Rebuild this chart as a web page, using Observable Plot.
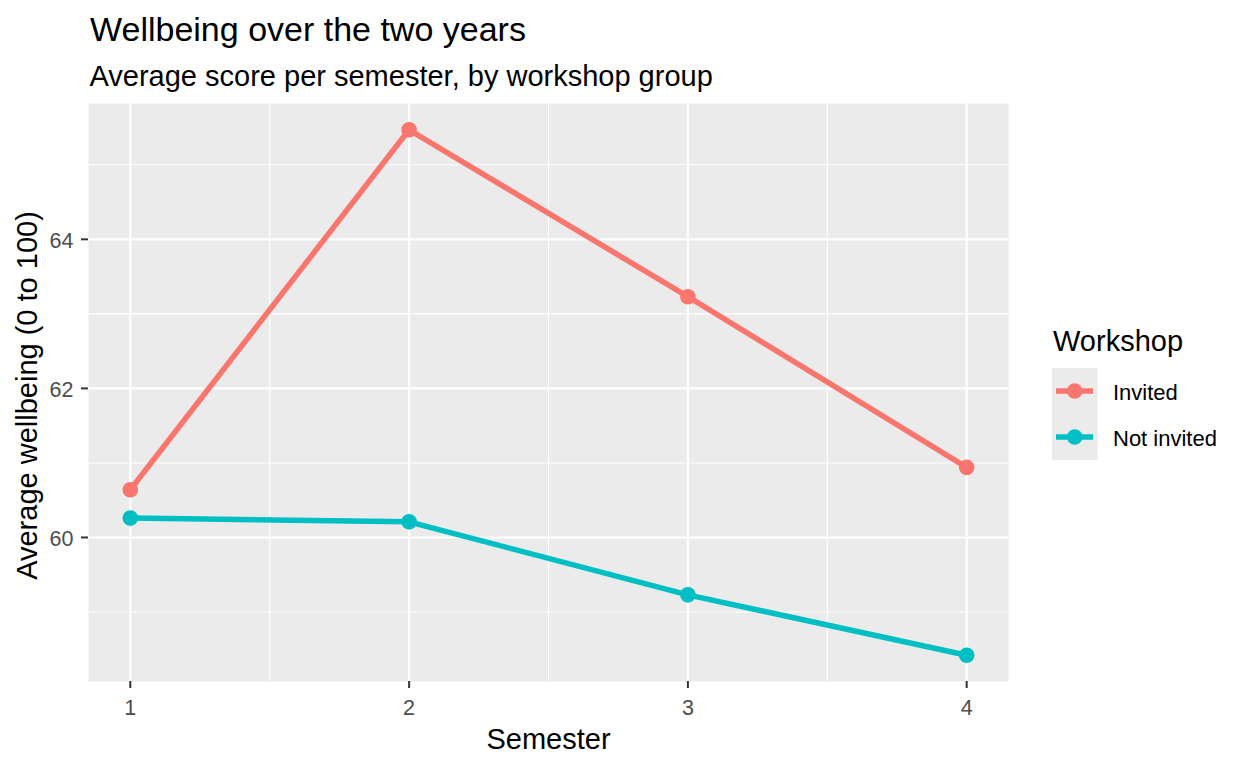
<!DOCTYPE html>
<html><head><meta charset="utf-8">
<script src="https://cdn.jsdelivr.net/npm/d3@7"></script>
<script src="https://cdn.jsdelivr.net/npm/@observablehq/plot@0.6"></script>
<style>
html,body{margin:0;padding:0;background:#fff;}
#wrap{position:relative;width:1248px;height:768px;}
#legend{position:absolute;left:0;top:0;pointer-events:none;}
</style></head><body><div id="wrap"></div>
<script>
const semesters = [1, 2, 3, 4];
const groups = ["Invited", "Not invited"];
const invited = [60.64, 65.47, 63.23, 60.94];
const notInvited = [60.26, 60.21, 59.23, 58.42];
const colors = ["#F8766D", "#00BFC4"];
const xTicks = [1, 2, 3, 4];
const xMinor = [1.5, 2.5, 3.5];
const yTicks = [60, 62, 64];
const yMinor = [59, 61, 63, 65];
const title = "Wellbeing over the two years";
const subtitle = "Average score per semester, by workshop group";
const xLabel = "Semester";
const yLabel = "Average wellbeing (0 to 100)";
const legendTitle = "Workshop";

const rows = [];
semesters.forEach((s, i) => rows.push({semester: s, score: invited[i], group: groups[0]}));
semesters.forEach((s, i) => rows.push({semester: s, score: notInvited[i], group: groups[1]}));

function expand(ext) { const p = (ext[1] - ext[0]) * 0.05; return [ext[0] - p, ext[1] + p]; }
const xDomain = expand(d3.extent(semesters));
const yDomain = expand(d3.extent(rows, d => d.score));

const font = "'Liberation Sans', Arial, sans-serif";
const tickFont = 21.5;
const chart = Plot.plot({
  width: 1248, height: 768,
  marginLeft: 88, marginRight: 240, marginTop: 103, marginBottom: 87,
  style: {fontFamily: font, fontSize: "22px", background: "#fff", overflow: "visible"},
  x: {domain: xDomain},
  y: {domain: yDomain},
  color: {domain: groups, range: colors},
  marks: [
    Plot.frame({fill: "#EBEBEB", stroke: "none"}),
    Plot.gridX(xMinor, {stroke: "#fff", strokeOpacity: 1, strokeWidth: 1.1}),
    Plot.gridY(yMinor, {stroke: "#fff", strokeOpacity: 1, strokeWidth: 1.1}),
    Plot.gridX(xTicks, {stroke: "#fff", strokeOpacity: 1, strokeWidth: 2.1}),
    Plot.gridY(yTicks, {stroke: "#fff", strokeOpacity: 1, strokeWidth: 2.1}),
    Plot.axisX(xTicks, {label: null, tickFormat: () => "", tickSize: 7, stroke: "#333333", strokeWidth: 2}),
    Plot.axisY(yTicks, {label: null, tickFormat: () => "", tickSize: 7, stroke: "#333333", strokeWidth: 2}),
    Plot.text(xTicks, {x: d => d, text: d => String(d), frameAnchor: "bottom", dy: 33, lineAnchor: "bottom", textAnchor: "middle", fontSize: tickFont, fill: "#4D4D4D"}),
    Plot.text(yTicks, {y: d => d, text: d => String(d), frameAnchor: "left", dx: -15, dy: 9, lineAnchor: "bottom", textAnchor: "end", fontSize: tickFont, fill: "#4D4D4D"}),
    Plot.line(rows, {x: "semester", y: "score", z: "group", stroke: "group", strokeWidth: 5.5}),
    Plot.dot(rows, {x: "semester", y: "score", fill: "group", r: 7.8}),
    Plot.text([title], {frameAnchor: "top-left", text: d => d, dx: 1.5, dy: -63, lineAnchor: "bottom", textAnchor: "start", fontSize: 34, fill: "#000"}),
    Plot.text([subtitle], {frameAnchor: "top-left", text: d => d, dx: 1, dy: -18, lineAnchor: "bottom", textAnchor: "start", fontSize: 29, fill: "#000"}),
    Plot.text([xLabel], {frameAnchor: "bottom", text: d => d, dy: 67, lineAnchor: "bottom", textAnchor: "middle", fontSize: 29, fill: "#000"}),
    Plot.text([yLabel], {frameAnchor: "left", text: d => d, dx: -52, dy: 3, rotate: -90, lineAnchor: "bottom", textAnchor: "middle", fontSize: 29, fill: "#000"})
  ]
});
document.getElementById("wrap").appendChild(chart);

// legend
const cs = chart.scale("color");
const svg = d3.select("#wrap").append("svg").attr("id", "legend")
  .attr("width", 1248).attr("height", 768).style("font-family", font);
const lg = svg.append("g");
lg.append("text").attr("x", 1053).attr("y", 351).attr("font-size", 29).attr("fill", "#000").text(legendTitle);
const keyH = 46;
lg.append("rect").attr("x", 1051.7).attr("y", 368).attr("width", 46).attr("height", keyH * groups.length).attr("fill", "#EBEBEB");
groups.forEach((g, i) => {
  const c = cs && cs.apply ? cs.apply(g) : colors[i];
  const cy = 368 + keyH * i + keyH / 2;
  lg.append("line").attr("x1", 1056).attr("x2", 1093).attr("y1", cy).attr("y2", cy)
    .attr("stroke", c).attr("stroke-width", 5.5);
  lg.append("circle").attr("cx", 1074.7).attr("cy", cy).attr("r", 7.8).attr("fill", c);
  lg.append("text").attr("x", 1113).attr("y", cy + 8.5).attr("font-size", 22).attr("fill", "#000").text(g);
});
</script></body></html>
